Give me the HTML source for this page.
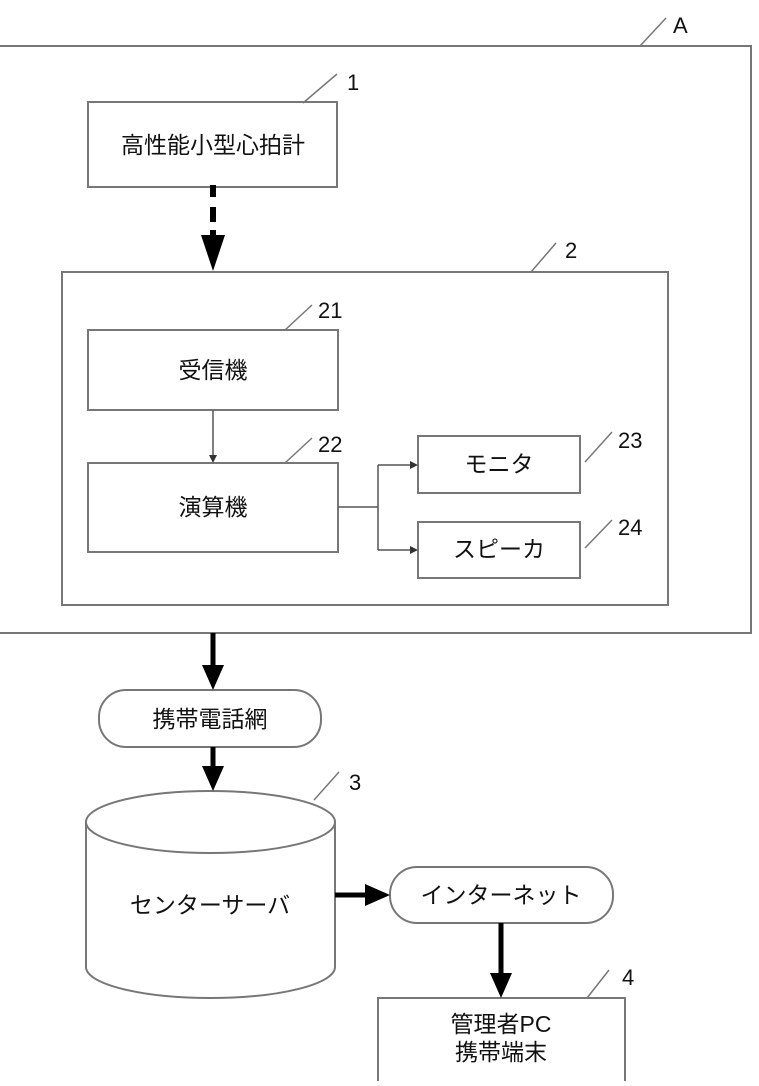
<!DOCTYPE html>
<html><head><meta charset="utf-8"><style>
body{margin:0;background:#fff;}
svg text{font-family:"Liberation Sans","Noto Sans CJK JP",sans-serif;fill:#111;}
</style></head><body>
<svg width="759" height="1081" viewBox="0 0 759 1081" xmlns="http://www.w3.org/2000/svg">
<g fill="none" stroke="#777" stroke-width="2">
<rect x="-5" y="46" width="756" height="587"/>
<rect x="88" y="102" width="249" height="85"/>
<rect x="62" y="272" width="606" height="333"/>
<rect x="88" y="330" width="250" height="80"/>
<rect x="88" y="463" width="250" height="89"/>
<rect x="418" y="436" width="162" height="57"/>
<rect x="418" y="522" width="162" height="56"/>
<rect x="99" y="690" width="222" height="57" rx="27"/>
<rect x="390" y="867" width="223" height="56" rx="27"/>
<rect x="378" y="998" width="247" height="100"/>
<path d="M86,822 L86,967 A124.5,31 0 0 0 335,967 L335,822"/>
<ellipse cx="210.5" cy="822" rx="124.5" ry="31" fill="#fff"/>
</g>
<g stroke="#777" stroke-width="1.5">
<line x1="640" y1="46" x2="666" y2="18"/>
<line x1="303" y1="103" x2="337" y2="74"/>
<line x1="531" y1="272" x2="556" y2="243"/>
<line x1="285" y1="330" x2="312" y2="305"/>
<line x1="285" y1="463" x2="312" y2="438"/>
<line x1="585" y1="462" x2="612" y2="432"/>
<line x1="585" y1="548" x2="612" y2="520"/>
<line x1="314" y1="800" x2="339" y2="772"/>
<line x1="587" y1="998" x2="609" y2="970"/>
</g>
<g fill="#000">
<rect x="210" y="185" width="6" height="12"/>
<rect x="210" y="207" width="6" height="15"/>
<rect x="210" y="230" width="6" height="8"/>
</g>
<path d="M213,271 L201,235 L225,235z"/>
<g stroke="#555" stroke-width="1.5" fill="none">
<line x1="213" y1="410" x2="213" y2="458"/>
<path d="M338,507 H378 M378,465 V550 M378,465 H412 M378,550 H412"/>
</g>
<path d="M213,463 L209,455 L217,455z M418,465 L410,461 L410,469z M418,550 L410,546 L410,554z" fill="#333"/>
<g stroke="#000" stroke-width="5">
<line x1="213" y1="633" x2="213" y2="668"/>
<line x1="213" y1="747" x2="213" y2="768"/>
<line x1="335" y1="895" x2="368" y2="895"/>
<line x1="501" y1="923" x2="501" y2="976"/>
</g>
<path d="M213,690 L202,665 L224,665z M213,791 L202,766 L224,766z M390,895 L365,884 L365,906z M501,998 L490,973 L512,973z"/>
<g font-size="23" text-anchor="middle">
<text x="213" y="153">高性能小型心拍計</text>
<text x="213" y="378">受信機</text>
<text x="213" y="515">演算機</text>
<text x="499" y="472">モニタ</text>
<text x="499" y="557">スピーカ</text>
<text x="210" y="727">携帯電話網</text>
<text x="210" y="913">センターサーバ</text>
<text x="501" y="903">インターネット</text>
<text x="501" y="1032">管理者PC</text>
<text x="501" y="1060">携帯端末</text>
</g>
<g font-size="22">
<text x="673" y="33">A</text>
<text x="347" y="90">1</text>
<text x="565" y="258">2</text>
<text x="318" y="318">21</text>
<text x="318" y="452">22</text>
<text x="618" y="448">23</text>
<text x="618" y="535">24</text>
<text x="349" y="790">3</text>
<text x="622" y="985">4</text>
</g>
</svg>
</body></html>
